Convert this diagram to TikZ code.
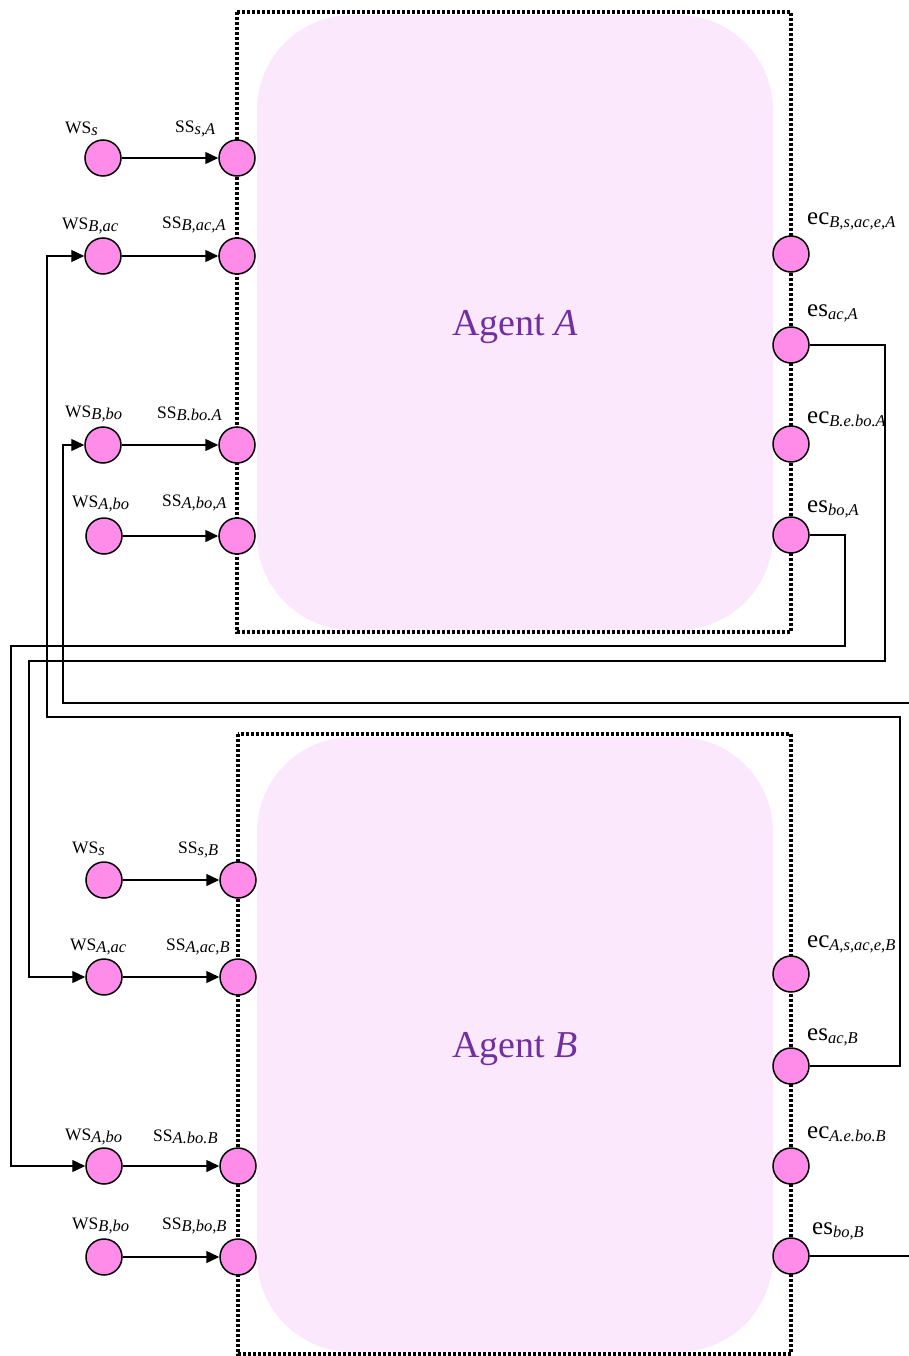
\documentclass[tikz,border=0pt]{standalone}
\usepackage{fontspec}
\setmainfont{Liberation Serif}
\usetikzlibrary{arrows.meta}
\definecolor{portpink}{RGB}{255,140,232}
\definecolor{agentpink}{RGB}{252,232,252}
\definecolor{agentpurple}{RGB}{112,48,160}
\newcommand{\lblws}[2]{{\fontsize{17.5}{17.5}\selectfont #1}\raisebox{-2.5pt}{\fontsize{16.5}{16.5}\selectfont\itshape #2}}
\newcommand{\lblec}[2]{{\fontsize{25}{25}\selectfont #1}\raisebox{-3pt}{\fontsize{16.5}{16.5}\selectfont\itshape #2}}
\begin{document}
\begin{tikzpicture}[x=1pt,y=-1pt,
  port/.style={circle,draw=black,line width=1.5pt,fill=portpink,minimum size=36pt,inner sep=0pt},
  lbl/.style={anchor=west,inner sep=0pt},
  boundary/.style={draw=black,line width=3.2pt,dash pattern=on 2.6pt off 2.4pt},
  agentbody/.style={fill=agentpink,rounded corners=95pt},
  tip/.style={-{Triangle[length=13pt,width=12pt]}},
  feed/.style={line width=1.5pt,tip},
  wire/.style={line width=1.4pt,tip},
  agenttext/.style={text=agentpurple,font=\fontsize{38}{38}\selectfont}]
\useasboundingbox (0,0) rectangle (908,1356);

% ---------- Agent A ----------
\fill[agentbody] (257,15) rectangle (773,630);
\draw[boundary] (237,12) rectangle (791,632);
\node[agenttext] (agA) at (515,327) {Agent \textit{A}};

\node[port] (wssA) at (103,158) {};
\node[port] (sssA) at (237,158) {};
\node[port] (wsBacA) at (103,256) {};
\node[port] (ssBacA) at (237,256) {};
\node[port] (wsBboA) at (103,445) {};
\node[port] (ssBboA) at (237,445) {};
\node[port] (wsAboA) at (104,536) {};
\node[port] (ssAboA) at (237,536) {};

\node[port] (ecA1) at (791,254) {};
\node[port] (esacA) at (791,345) {};
\node[port] (ecA2) at (791,444) {};
\node[port] (esboA) at (791,535) {};

\node[lbl] (l1) at (65,129) {\lblws{WS}{s}};
\node[lbl] (l2) at (175,129) {\lblws{SS}{s,A}};
\node[lbl] (l3) at (62,226) {\lblws{WS}{B,ac}};
\node[lbl] (l4) at (162,225) {\lblws{SS}{B,ac,A}};
\node[lbl] (l5) at (65,414) {\lblws{WS}{B,bo}};
\node[lbl] (l6) at (157,414) {\lblws{SS}{B.bo.A}};
\node[lbl] (l7) at (72,504) {\lblws{WS}{A,bo}};
\node[lbl] (l8) at (162,503) {\lblws{SS}{A,bo,A}};

\node[lbl] (r1) at (807,221) {\lblec{ec}{B,s,ac,e,A}};
\node[lbl] (r2) at (807,313) {\lblec{es}{ac,A}};
\node[lbl] (r3) at (807,419) {\lblec{ec}{B.e.bo.A}};
\node[lbl] (r4) at (807,509) {\lblec{es}{bo,A}};

\draw[feed] (wssA) -- (sssA);
\draw[feed] (wsBacA) -- (ssBacA);
\draw[feed] (wsBboA) -- (ssBboA);
\draw[feed] (wsAboA) -- (ssAboA);

% ---------- Agent B ----------
\fill[agentbody] (257,737) rectangle (773,1352);
\draw[boundary] (238,734) rectangle (791,1354);
\node[agenttext] (agB) at (515,1049) {Agent \textit{B}};

\node[port] (wssB) at (104,880) {};
\node[port] (sssB) at (238,880) {};
\node[port] (wsAacB) at (104,977) {};
\node[port] (ssAacB) at (238,977) {};
\node[port] (wsAboB) at (104,1166) {};
\node[port] (ssAboB) at (238,1166) {};
\node[port] (wsBboB) at (104,1257) {};
\node[port] (ssBboB) at (238,1257) {};

\node[port] (ecB1) at (791,974) {};
\node[port] (esacB) at (791,1066) {};
\node[port] (ecB2) at (791,1166) {};
\node[port] (esboB) at (791,1256) {};

\node[lbl] (m1) at (72,849) {\lblws{WS}{s}};
\node[lbl] (m2) at (178,850) {\lblws{SS}{s,B}};
\node[lbl] (m3) at (70,947) {\lblws{WS}{A,ac}};
\node[lbl] (m4) at (166,947) {\lblws{SS}{A,ac,B}};
\node[lbl] (m5) at (65,1137) {\lblws{WS}{A,bo}};
\node[lbl] (m6) at (153,1137) {\lblws{SS}{A.bo.B}};
\node[lbl] (m7) at (72,1226) {\lblws{WS}{B,bo}};
\node[lbl] (m8) at (162,1226) {\lblws{SS}{B,bo,B}};

\node[lbl] (s1) at (807,944) {\lblec{ec}{A,s,ac,e,B}};
\node[lbl] (s2) at (807,1037) {\lblec{es}{ac,B}};
\node[lbl] (s3) at (807,1134) {\lblec{ec}{A.e.bo.B}};
\node[lbl] (s4) at (812,1231) {\lblec{es}{bo,B}};

\draw[feed] (wssB) -- (sssB);
\draw[feed] (wsAacB) -- (ssAacB);
\draw[feed] (wsAboB) -- (ssAboB);
\draw[feed] (wsBboB) -- (ssBboB);

% ---------- cross wiring ----------
\draw[wire] (esacA.east) -| (885,661) -- (29,661) |- (wsAacB.west);
\draw[wire] (esboA.east) -| (845,646) -- (11,646) |- (wsAboB.west);
\draw[wire] (esacB.east) -| (900,717) -- (47,717) |- (wsBacA.west);
\draw[wire] (esboB.east) -| (914,703) -- (63,703) |- (wsBboA.west);
\end{tikzpicture}
\end{document}
